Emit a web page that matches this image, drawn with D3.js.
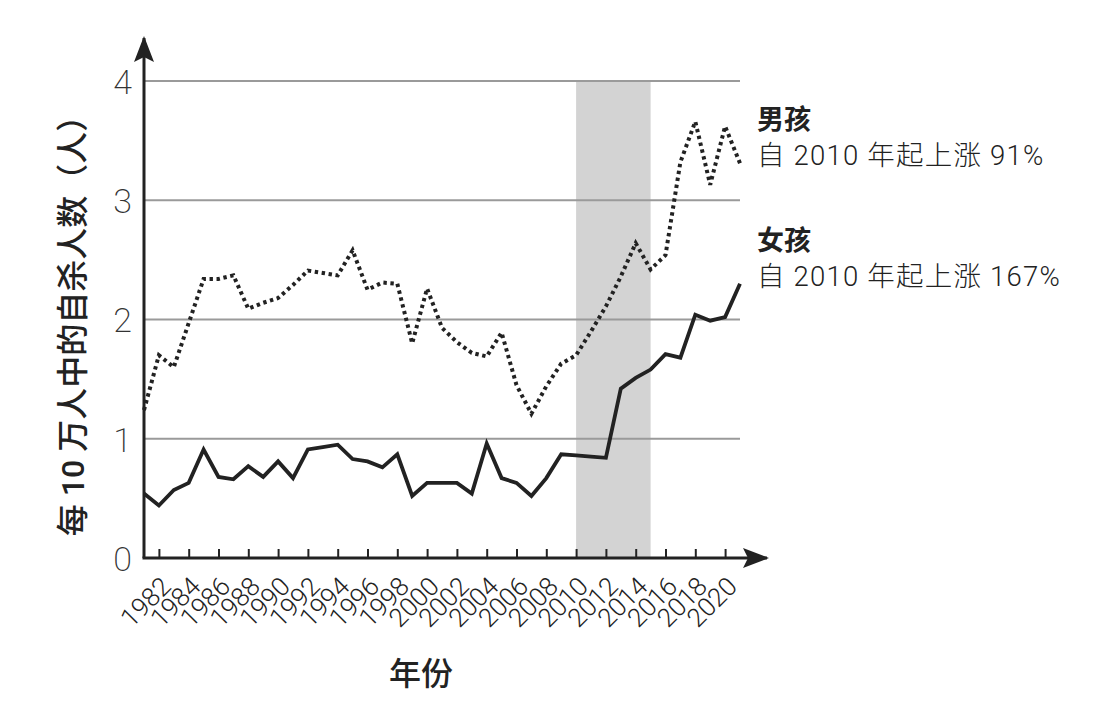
<!DOCTYPE html>
<html>
<head>
<meta charset="utf-8">
<script src="https://cdn.jsdelivr.net/npm/d3@7"></script>
<style>
  html, body { margin: 0; padding: 0; background: #fff; }
  svg { display: block; }
  .cjk { font-family: "Roboto", "Noto Sans CJK SC", sans-serif; }
</style>
</head>
<body>
<svg id="chart" width="1109" height="705"></svg>
<script>
// ---- data ----
const years = [1981,1982,1983,1984,1985,1986,1987,1988,1989,1990,
               1991,1992,1993,1994,1995,1996,1997,1998,1999,2000,
               2001,2002,2003,2004,2005,2006,2007,2008,2009,2010,
               2011,2012,2013,2014,2015,2016,2017,2018,2019,2020,2021];
const boys  = [1.24,1.70,1.60,1.97,2.34,2.34,2.37,2.09,2.14,2.18,
               2.29,2.41,2.39,2.37,2.58,2.25,2.31,2.30,1.80,2.26,
               1.93,1.81,1.72,1.69,1.89,1.45,1.21,1.44,1.63,1.70,
               1.90,2.11,2.36,2.64,2.42,2.54,3.32,3.66,3.13,3.62,3.31];
const girls = [0.54,0.44,0.57,0.63,0.91,0.68,0.66,0.77,0.68,0.81,
               0.67,0.91,0.93,0.95,0.83,0.81,0.76,0.87,0.52,0.63,
               0.63,0.63,0.54,0.96,0.67,0.63,0.52,0.67,0.87,0.86,
               0.85,0.84,1.42,1.51,1.58,1.71,1.68,2.04,1.99,2.02,2.30];
const yTicks = [0,1,2,3,4];
const xTickYears = [1982,1984,1986,1988,1990,1992,1994,1996,1998,2000,
                    2002,2004,2006,2008,2010,2012,2014,2016,2018,2020];
const shadeRange = [2010, 2015];
const yTitle = "每 10 万人中的自杀人数（人）";
const xTitle = "年份";
const legendBoys = ["男孩", "自 2010 年起上涨 91%"];
const legendGirls = ["女孩", "自 2010 年起上涨 167%"];

// ---- layout ----
const svg = d3.select("#chart");
const x = d3.scaleLinear().domain([1981, 2021]).range([144, 740]);
const y = d3.scaleLinear().domain([0, 4]).range([558, 81]);
const ink = "#222";

// shaded period
svg.append("rect")
  .attr("x", x(shadeRange[0])).attr("y", y(4))
  .attr("width", x(shadeRange[1]) - x(shadeRange[0]))
  .attr("height", y(0) - y(4))
  .attr("fill", "#d3d3d3");

// gridlines
svg.append("g").selectAll("line")
  .data(yTicks.filter(d => d > 0)).join("line")
  .attr("x1", x(1981)).attr("x2", x(2021))
  .attr("y1", d => y(d)).attr("y2", d => y(d))
  .attr("stroke", "#9a9a9a").attr("stroke-width", 2);

// x axis ticks + labels
const xAxis = d3.axisBottom(x)
  .tickValues(xTickYears)
  .tickFormat(d3.format("d"))
  .tickSizeInner(-9).tickSizeOuter(0);
const gx = svg.append("g").attr("transform", `translate(0,${y(0)})`).call(xAxis);
gx.select(".domain").remove();
gx.selectAll(".tick line").attr("stroke", ink).attr("stroke-width", 2);
gx.selectAll(".tick text")
  .attr("font-family", "Roboto, sans-serif")
  .attr("font-weight", 300)
  .attr("font-size", 26)
  .attr("fill", ink)
  .attr("text-anchor", "end")
  .attr("dy", null)
  .attr("y", 0)
  .attr("transform", "translate(13,30) rotate(-45)");

// y axis labels
const yAxis = d3.axisLeft(y).tickValues(yTicks).tickSize(0).tickPadding(12).tickFormat(d3.format("d"));
const gy = svg.append("g").attr("transform", `translate(${x(1981)},0)`).call(yAxis);
gy.select(".domain").remove();
gy.selectAll(".tick text")
  .attr("font-family", "Roboto, sans-serif")
  .attr("font-weight", 200)
  .attr("font-size", 34)
  .attr("fill", "#333")
  .attr("dy", "0.36em");

// axis lines with arrows
const defs = svg.append("defs");
defs.append("marker")
  .attr("id", "arrow").attr("viewBox", "0 0 26 20")
  .attr("refX", 24).attr("refY", 10)
  .attr("markerWidth", 26).attr("markerHeight", 20)
  .attr("markerUnits", "userSpaceOnUse")
  .attr("orient", "auto")
  .append("path").attr("d", "M0,0 L26,10 L0,20 L5,10 Z").attr("fill", ink);

svg.append("line")
  .attr("x1", x(1981)).attr("y1", y(0)).attr("x2", x(1981)).attr("y2", 38)
  .attr("stroke", ink).attr("stroke-width", 3).attr("marker-end", "url(#arrow)");
svg.append("line")
  .attr("x1", x(1981) - 1.5).attr("y1", y(0)).attr("x2", 767).attr("y2", y(0))
  .attr("stroke", ink).attr("stroke-width", 3).attr("marker-end", "url(#arrow)");

// lines
const line = d3.line().x((d, i) => x(years[i])).y(d => y(d)).curve(d3.curveLinear);
svg.append("path").datum(boys)
  .attr("d", line).attr("fill", "none")
  .attr("stroke", ink).attr("stroke-width", 4)
  .attr("stroke-dasharray", "3.4,3.6").attr("stroke-linejoin", "miter");
svg.append("path").datum(girls)
  .attr("d", line).attr("fill", "none")
  .attr("stroke", ink).attr("stroke-width", 3.8).attr("stroke-linejoin", "miter");

// titles
svg.append("text").attr("class", "cjk")
  .attr("transform", "translate(84,318) rotate(-90)")
  .attr("text-anchor", "middle")
  .attr("font-size", 32).attr("font-weight", 500).attr("fill", ink)
  .text(yTitle);
svg.append("text").attr("class", "cjk")
  .attr("x", 421).attr("y", 685)
  .attr("text-anchor", "middle")
  .attr("font-size", 32).attr("font-weight", 500).attr("fill", ink)
  .text(xTitle);

// legend
function legend(lines, y0) {
  svg.append("text").attr("class", "cjk")
    .attr("x", 757).attr("y", y0)
    .attr("font-size", 27).attr("font-weight", 700).attr("fill", ink)
    .text(lines[0]);
  svg.append("text").attr("class", "cjk")
    .attr("x", 757).attr("y", y0 + 36)
    .attr("font-size", 27.5).attr("font-weight", 300).attr("fill", ink)
    .attr("letter-spacing", 1.2)
    .text(lines[1]);
}
legend(legendBoys, 129);
legend(legendGirls, 250);
</script>
</body>
</html>
